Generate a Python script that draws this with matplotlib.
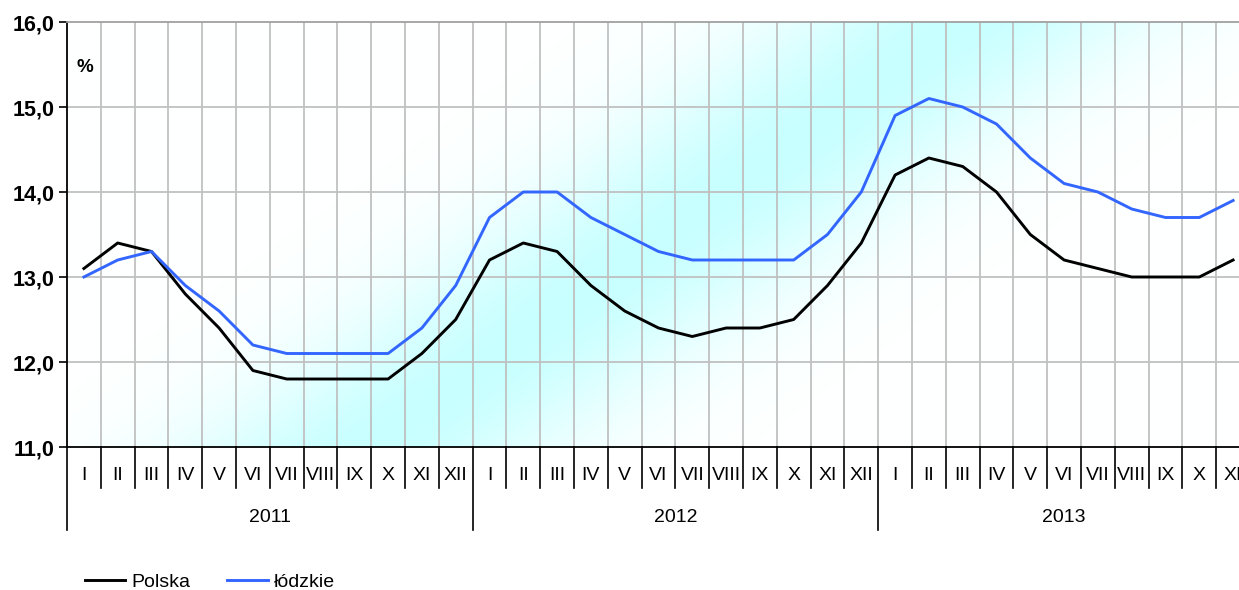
import numpy as np
import matplotlib
matplotlib.use("Agg")
import matplotlib.pyplot as plt
from matplotlib.lines import Line2D

plt.rcParams['font.family'] = ['Liberation Sans', 'DejaVu Sans']

years = ["2011", "2012", "2013"]
months_per_year = [12, 12, 11]
month_names = ["I", "II", "III", "IV", "V", "VI", "VII", "VIII", "IX", "X", "XI", "XII"]

polska = [13.1, 13.4, 13.3, 12.8, 12.4, 11.9, 11.8, 11.8, 11.8, 11.8, 12.1, 12.5,
          13.2, 13.4, 13.3, 12.9, 12.6, 12.4, 12.3, 12.4, 12.4, 12.5, 12.9, 13.4,
          14.2, 14.4, 14.3, 14.0, 13.5, 13.2, 13.1, 13.0, 13.0, 13.0, 13.2]
lodzkie = [13.0, 13.2, 13.3, 12.9, 12.6, 12.2, 12.1, 12.1, 12.1, 12.1, 12.4, 12.9,
           13.7, 14.0, 14.0, 13.7, 13.5, 13.3, 13.2, 13.2, 13.2, 13.2, 13.5, 14.0,
           14.9, 15.1, 15.0, 14.8, 14.4, 14.1, 14.0, 13.8, 13.7, 13.7, 13.9]
y_ticks = [11, 12, 13, 14, 15, 16]
series_names = ["Polska", "łódzkie"]
series_colors = ["#000000", "#3366ff"]

W, H = 1239, 590
fig = plt.figure(figsize=(W / 100, H / 100), dpi=100)
n = len(polska)
px_per_month = 33.8
ax_left, ax_top, ax_bottom = 67, 22, 447
ax_w = n * px_per_month
ax = fig.add_axes([ax_left / W, 1 - ax_bottom / H, ax_w / W, (ax_bottom - ax_top) / H])
ax.set_xlim(0, n)
ax.set_ylim(11, 16)

# background gradient (diagonal cyan band)
gw, gh = int(ax_w), ax_bottom - ax_top
xx, yy = np.meshgrid(np.arange(gw) + ax_left, np.arange(gh) + ax_top)
dist = ((xx - 370) * 425 + (yy - 447) * 590) / np.hypot(425, 590)
inten = np.exp(-(dist / 110.0) ** 2)
img = np.ones((gh, gw, 3))
img[..., 0] = 1 - inten * (1 - 200 / 255)
ax.imshow(img, extent=(0, 1, 0, 1), transform=ax.transAxes, aspect='auto', zorder=0, interpolation='bilinear')

# grid
for k in range(1, n):
    ax.axvline(k, color="#c0c0c0", lw=1.3, zorder=1)
for v in y_ticks[1:-1]:
    ax.axhline(v, color="#c0c0c0", lw=1.3, zorder=1)

x = np.arange(n) + 0.5
for vals, name, col in zip([polska, lodzkie], series_names, series_colors):
    ax.plot(x, vals, color=col, lw=2.1, label=name, zorder=3)

ax.spines["right"].set_visible(False)
ax.spines["top"].set_color("#a0a0a0")
ax.spines["top"].set_linewidth(1.3)
ax.spines["left"].set_linewidth(1.3)
ax.spines["bottom"].set_linewidth(1.3)

ax.set_yticks(y_ticks)
ax.set_yticklabels([f"{v:.1f}".replace(".", ",") for v in y_ticks], fontsize=15.5, fontweight="bold")
ax.tick_params(axis="y", length=6, width=1.2, pad=3)
ax.set_xticks([])

xt = ax.get_xaxis_transform()
hpx = ax_bottom - ax_top
pos = 0
for yi, (yr, cnt) in enumerate(zip(years, months_per_year)):
    for m in range(cnt):
        ax.text(pos + m + 0.5, -29 / hpx, month_names[m], transform=xt, ha="center", va="center",
                fontsize=14, clip_on=False)
        if m > 0:
            ax.add_line(Line2D([pos + m, pos + m], [0, -41 / hpx], transform=xt, color="black",
                               lw=1.2, clip_on=False))
    ax.add_line(Line2D([pos, pos], [0, -83 / hpx], transform=xt, color="black", lw=1.2, clip_on=False))
    ax.text(pos + cnt / 2, -70 / hpx, yr, transform=xt, ha="center", va="center", fontsize=14, clip_on=False)
    pos += cnt

ax.text(85 / W, 1 - 68 / H, "%", transform=fig.transFigure, ha="center", va="center",
        fontsize=13.5, fontweight="bold")

fig.legend(loc="center left", bbox_to_anchor=(71 / W, 1 - 582 / H), ncol=2, frameon=False,
           fontsize=14, handlelength=2.1, handletextpad=0.3, columnspacing=1.9, borderpad=0.2)

fig.savefig("out.png", dpi=100)
